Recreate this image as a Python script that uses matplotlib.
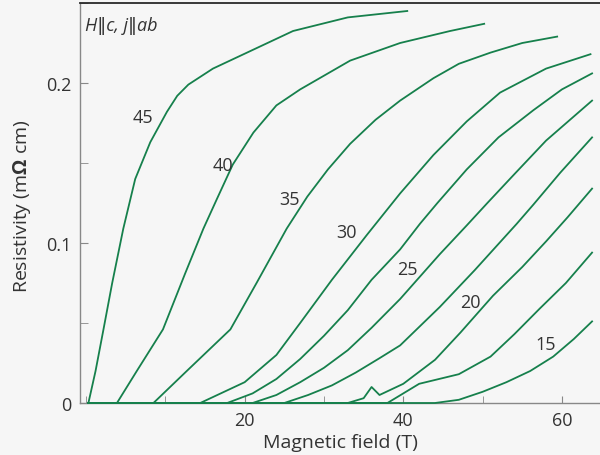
import matplotlib
matplotlib.use("Agg")
import matplotlib.pyplot as plt
from matplotlib.ticker import MultipleLocator

plt.rcParams['font.family'] = ['Open Sans', 'DejaVu Sans']
plt.rcParams['mathtext.fontset'] = 'custom'
plt.rcParams['mathtext.rm'] = 'Open Sans'
plt.rcParams['mathtext.bf'] = 'Open Sans:bold'

# Magnetic field (T) and resistivity (mOhm cm) for each temperature (K)
B45 = [0.3, 1.2, 2.2, 3.3, 4.7, 6.2, 8.1, 10.2, 11.5, 12.9, 16, 20.3, 26.1, 33, 40.5]
R45 = [0, 0.02, 0.046, 0.075, 0.109, 0.14, 0.163, 0.182, 0.192, 0.199, 0.209, 0.219, 0.2325, 0.241, 0.245]

B40 = [0.3, 3.9, 6.4, 9.7, 12.5, 14.8, 16.5, 18.5, 21.1, 24, 27, 33.3, 39.6, 45.9, 50.2]
R40 = [0, 0, 0.02, 0.046, 0.081, 0.109, 0.1275, 0.149, 0.169, 0.186, 0.196, 0.214, 0.225, 0.2325, 0.237]

B35 = [0.3, 8.5, 12.7, 18.2, 21.5, 25.3, 27.9, 30.5, 33.3, 36.5, 39.6, 43.8, 47, 51, 55, 59.4]
R35 = [0, 0, 0.02, 0.046, 0.075, 0.109, 0.129, 0.146, 0.162, 0.177, 0.189, 0.203, 0.212, 0.219, 0.225, 0.229]

B30 = [0.3, 14.4, 20, 24, 27, 31, 35.4, 39.6, 43.8, 48, 52.2, 58, 63.6]
R30 = [0, 0, 0.013, 0.03, 0.05, 0.077, 0.105, 0.131, 0.155, 0.176, 0.194, 0.209, 0.218]

B275 = [0.3, 17.8, 21, 24, 27, 30, 33, 36, 39.6, 42.1, 44.3, 48, 52, 56.4, 60, 63.8]
R275 = [0, 0, 0.006, 0.015, 0.0275, 0.042, 0.058, 0.077, 0.096, 0.112, 0.125, 0.146, 0.166, 0.183, 0.196, 0.206]

B25 = [0.3, 21, 24, 27, 30, 33, 36, 39.6, 44.6, 48, 50.6, 54, 58, 63.8]
R25 = [0, 0, 0.005, 0.013, 0.022, 0.033, 0.047, 0.065, 0.093, 0.111, 0.125, 0.143, 0.164, 0.189]

B225 = [0.3, 25, 28, 31, 34, 37, 39.6, 44.6, 49, 54.3, 56.4, 59.8, 63.8]
R225 = [0, 0, 0.005, 0.011, 0.019, 0.028, 0.036, 0.06, 0.083, 0.112, 0.124, 0.144, 0.166]

B20 = [0.3, 33, 35, 36, 37, 40, 44, 47.2, 51.3, 55, 58, 60.7, 63.8]
R20 = [0, 0, 0.003, 0.010, 0.005, 0.012, 0.027, 0.044, 0.067, 0.085, 0.101, 0.116, 0.134]

B175 = [0.3, 38, 42, 47, 51, 54, 57.2, 60.5, 63.8]
R175 = [0, 0, 0.012, 0.018, 0.029, 0.043, 0.059, 0.075, 0.094]

B15 = [0.3, 44, 47, 50, 53, 56, 58.9, 61.5, 63.8]
R15 = [0, 0, 0.002, 0.007, 0.013, 0.02, 0.029, 0.04, 0.051]

curves = [(B45, R45), (B40, R40), (B35, R35), (B30, R30), (B275, R275),
          (B25, R25), (B225, R225), (B20, R20), (B175, R175), (B15, R15)]

label_text = ['45', '40', '35', '30', '25', '20', '15']
label_B = [7.2, 17.2, 25.7, 32.9, 40.5, 48.4, 57.9]
label_R = [0.179, 0.149, 0.1275, 0.107, 0.0838, 0.0631, 0.0369]

xticks = [20, 40, 60]
yticks = [0, 0.1, 0.2]

green = '#16804c'
bg = '#f6f6f6'

fig = plt.figure(figsize=(6.0, 4.56), dpi=100, facecolor=bg)
ax = fig.add_axes([80/600, 52/456, 520/600, 400/456], facecolor=bg)

for b, r in curves:
    ax.plot(b, r, color=green, lw=1.3, solid_joinstyle='round', clip_on=False, zorder=3)

for t, x, y in zip(label_text, label_B, label_R):
    ax.text(x, y, t, fontsize=13, color='#333333', ha='center', va='center')

ax.text(0.01, 0.968, 'H\u2016c, j\u2016ab', transform=ax.transAxes, fontsize=13,
        ha='left', va='top', color='#333333', style='italic')

ax.set_xlim(-0.76, 64.8)
ax.set_ylim(0, 0.25)
ax.set_xticks(xticks)
ax.set_xticklabels([str(v) for v in xticks])
ax.xaxis.set_minor_locator(MultipleLocator(10))
ax.set_yticks(yticks)
ax.set_yticklabels(['0', '0.1', '0.2'])
ax.yaxis.set_minor_locator(MultipleLocator(0.05))

ax.tick_params(axis='both', which='both', direction='in', color='#888888',
               labelsize=13, labelcolor='#333333')
ax.tick_params(axis='x', which='both', length=5, pad=6)
ax.tick_params(axis='y', which='both', length=6, pad=6)

for s in ['left', 'bottom']:
    ax.spines[s].set_color('#888888')
    ax.spines[s].set_linewidth(1.0)
ax.spines['top'].set_color('#2a2a2a')
ax.spines['top'].set_linewidth(1.3)
ax.spines['right'].set_visible(False)

ax.set_xlabel('Magnetic field (T)', fontsize=14, color='#333333')
ax.xaxis.set_label_coords(0.5, -0.074)
ax.set_ylabel(r'Resistivity (m$\mathbf{\Omega}$ cm)', fontsize=14, color='#333333')
ax.yaxis.set_label_coords(-0.09, 0.495)

fig.savefig('out.png', dpi=100, facecolor=bg)
